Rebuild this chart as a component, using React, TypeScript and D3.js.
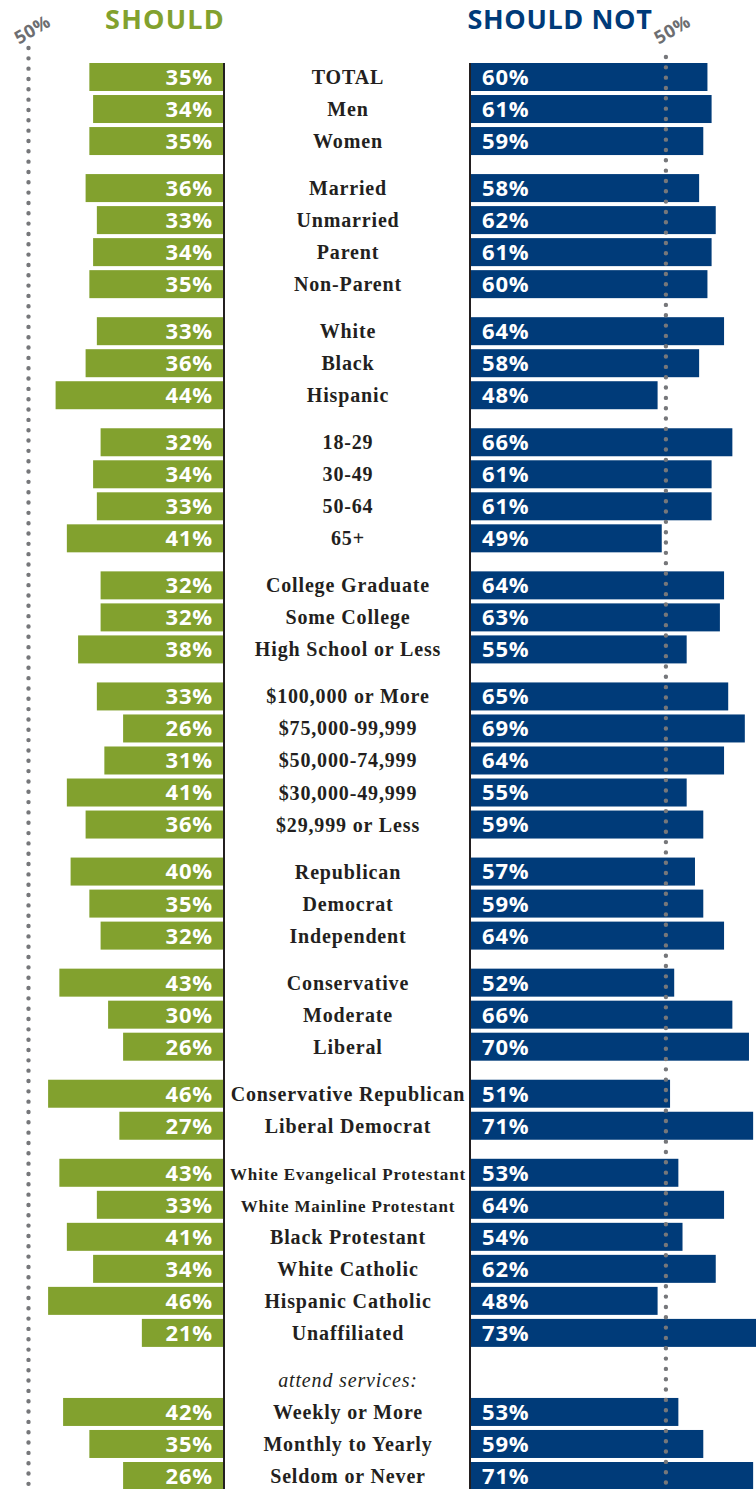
import React, { useEffect } from "react";
import * as d3 from "d3";

const categories = [
  "TOTAL", "Men", "Women",
  "Married", "Unmarried", "Parent", "Non-Parent",
  "White", "Black", "Hispanic",
  "18-29", "30-49", "50-64", "65+",
  "College Graduate", "Some College", "High School or Less",
  "$100,000 or More", "$75,000-99,999", "$50,000-74,999", "$30,000-49,999", "$29,999 or Less",
  "Republican", "Democrat", "Independent",
  "Conservative", "Moderate", "Liberal",
  "Conservative Republican", "Liberal Democrat",
  "White Evangelical Protestant", "White Mainline Protestant", "Black Protestant", "White Catholic", "Hispanic Catholic", "Unaffiliated",
  "attend services:", "Weekly or More", "Monthly to Yearly", "Seldom or Never",
];
const groupIds = [
  0, 0, 0,
  1, 1, 1, 1,
  2, 2, 2,
  3, 3, 3, 3,
  4, 4, 4,
  5, 5, 5, 5, 5,
  6, 6, 6,
  7, 7, 7,
  8, 8,
  9, 9, 9, 9, 9, 9,
  10, 10, 10, 10,
];
const shouldValues: (number | null)[] = [
  35, 34, 35,
  36, 33, 34, 35,
  33, 36, 44,
  32, 34, 33, 41,
  32, 32, 38,
  33, 26, 31, 41, 36,
  40, 35, 32,
  43, 30, 26,
  46, 27,
  43, 33, 41, 34, 46, 21,
  null, 42, 35, 26,
];
const shouldNotValues: (number | null)[] = [
  60, 61, 59,
  58, 62, 61, 60,
  64, 58, 48,
  66, 61, 61, 49,
  64, 63, 55,
  65, 69, 64, 55, 59,
  57, 59, 64,
  52, 66, 70,
  51, 71,
  53, 64, 54, 62, 48, 73,
  null, 53, 59, 71,
];
const seriesNames = ["SHOULD", "SHOULD NOT"];
const refTick = 50;
const refTickLabel = "50%";

const W = 756;
const H = 1489;
const GREEN = "#82a12e";
const BLUE = "#003b79";
const INK = "#231f20";
const GREY = "#6d6e71";
const DOT = "#76777a";

export default function App() {
  useEffect(() => {
    document.body.style.margin = "0";
  }, []);

  const leftAxisX = 224;
  const rightAxisX = 470;
  const barH = 28;

  const leftX = d3.scaleLinear().domain([0, 50]).range([220.6, 33.1]);
  const rightX = d3.scaleLinear().domain([0, 50]).range([458.2, 665.9]);

  const groupGap = 15 / 32;
  const pos = categories.map((_, i) => i + groupIds[i] * groupGap);
  const y = d3
    .scaleLinear()
    .domain([0, d3.max(pos) as number])
    .range([77, 1476]);

  const leftDotX = 28.5;
  const rightDotX = rightX(refTick);

  const pctFont = "'Open Sans', 'DejaVu Sans', sans-serif";
  const serif = "'Liberation Serif', 'Times New Roman', serif";

  return (
    <svg width={W} height={H} viewBox={`0 0 ${W} ${H}`} style={{ display: "block" }}>
      <rect width={W} height={H} fill="#fff" />
      {/* headers */}
      <text x={165} y={29} textAnchor="middle" fill={GREEN} fontFamily={pctFont} fontWeight={700} fontSize={27} letterSpacing={1.2}>
        {seriesNames[0]}
      </text>
      <text x={560} y={29} textAnchor="middle" fill={BLUE} fontFamily={pctFont} fontWeight={700} fontSize={27} letterSpacing={0.6}>
        {seriesNames[1]}
      </text>
      {/* 50% labels */}
      <text x={32} y={29} transform={`rotate(-30 32 29)`} textAnchor="middle" dominantBaseline="central" fill={GREY} fontFamily={pctFont} fontWeight={700} fontSize={18} letterSpacing={0.5}>
        {refTickLabel}
      </text>
      <text x={rightDotX + 6} y={29} transform={`rotate(-30 ${rightDotX + 6} 29)`} textAnchor="middle" dominantBaseline="central" fill={GREY} fontFamily={pctFont} fontWeight={700} fontSize={18} letterSpacing={0.5}>
        {refTickLabel}
      </text>
      {/* left dotted line */}
      <line x1={leftDotX} x2={leftDotX} y1={48} y2={H + 5} stroke={DOT} strokeWidth={4.4} strokeLinecap="round" strokeDasharray="0 10.33" />

      {/* bars */}
      {categories.map((c, i) => {
        const cy = y(pos[i]);
        const s = shouldValues[i];
        const n = shouldNotValues[i];
        const small = c.length > 24;
        const italic = s === null && n === null;
        return (
          <g key={c}>
            {s !== null && (
              <g>
                <rect x={leftX(s)} y={cy - barH / 2} width={leftAxisX - leftX(s)} height={barH} fill={GREEN} />
                <text x={leftAxisX - 11} y={cy} dy="0.36em" textAnchor="end" fill="#fff" fontFamily={pctFont} fontWeight={700} fontSize={22} letterSpacing={0.8}>
                  {`${s}%`}
                </text>
              </g>
            )}
            {n !== null && (
              <g>
                <rect x={rightAxisX} y={cy - barH / 2} width={rightX(n) - rightAxisX} height={barH} fill={BLUE} />
                <text x={rightAxisX + 12} y={cy} dy="0.36em" textAnchor="start" fill="#fff" fontFamily={pctFont} fontWeight={700} fontSize={22} letterSpacing={0.8}>
                  {`${n}%`}
                </text>
              </g>
            )}
            <text
              x={(leftAxisX + rightAxisX) / 2 + 1}
              y={cy + 7}
              textAnchor="middle"
              fill={INK}
              fontFamily={serif}
              fontWeight={italic ? 400 : 700}
              fontStyle={italic ? "italic" : "normal"}
              fontSize={small ? 17 : 20}
              letterSpacing={0.85}
            >
              {c}
            </text>
          </g>
        );
      })}

      {/* right dotted line over bars */}
      <line x1={rightDotX} x2={rightDotX} y1={57} y2={H + 5} stroke={DOT} strokeWidth={4.4} strokeLinecap="round" strokeDasharray="0 10.33" />
      {/* axes */}
      <line x1={leftAxisX} x2={leftAxisX} y1={63} y2={H} stroke={INK} strokeWidth={2} />
      <line x1={rightAxisX} x2={rightAxisX} y1={63} y2={H} stroke={INK} strokeWidth={2} />
    </svg>
  );
}
